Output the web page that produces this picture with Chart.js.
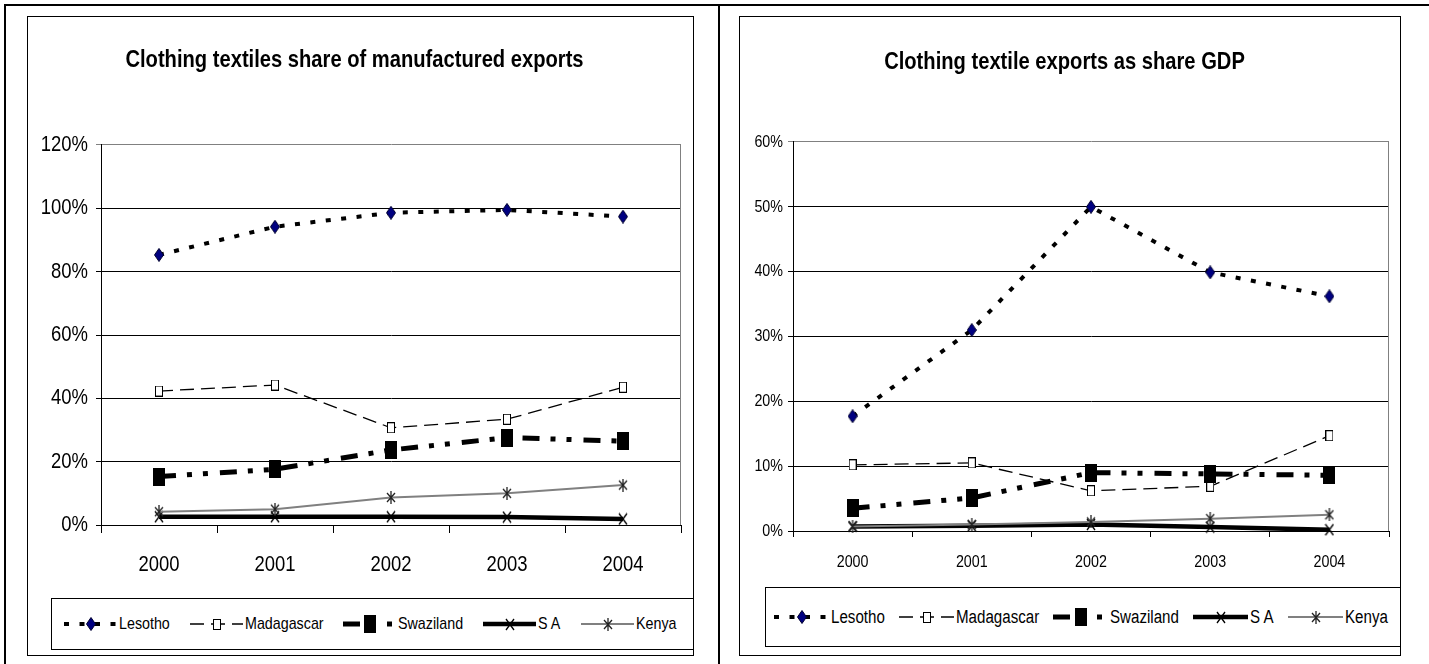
<!DOCTYPE html>
<html>
<head>
<meta charset="utf-8">
<title>Clothing textile exports</title>
<script src="https://cdn.jsdelivr.net/npm/chart.js@4.4.1/dist/chart.umd.min.js"></script>
<style>
  html, body { margin: 0; padding: 0; background: #fff; }
  body {
    width: 1429px; height: 664px; position: relative; overflow: hidden;
    font-family: 'Liberation Sans Narrow', 'Arial Narrow', 'Liberation Sans', Arial, sans-serif;
    color: #000;
  }
  .page-top { position: absolute; left: 4px; top: 4px; right: 0; border-top: 2px solid #000; }
  .page-left { position: absolute; left: 4px; top: 4px; bottom: 0; border-left: 2px solid #000; }
  .divider { position: absolute; left: 718px; top: 4px; bottom: 0; border-left: 2px solid #000; }
  .frame { position: absolute; box-sizing: border-box; border: 1px solid #000; background: #fff; }
  .frame canvas { position: absolute; left: 0; top: 0; }
  .legend {
    position: absolute; box-sizing: border-box; border: 1px solid #000; background: #fff;
    display: flex; align-items: center; white-space: nowrap; overflow: hidden;
  }
  .legend .item { display: flex; align-items: center; }
  .legend canvas { display: block; }
  .legend span { display: inline-block; margin-left: 2px; transform-origin: 0 50%; }
</style>
</head>
<body>
<div class="page-top"></div>
<div class="page-left"></div>
<div class="divider"></div>

<div class="frame" style="left:27px; top:16px; width:667px; height:640px;">
  <canvas id="mfgChart" width="665" height="638"></canvas>
</div>
<div class="legend" id="mfgLegend" style="left:51px; top:598px; width:643px; height:52px; padding-left:12px; font-size:17px;"></div>

<div class="frame" style="left:739px; top:16px; width:662px; height:640px;">
  <canvas id="gdpChart" width="660" height="638"></canvas>
</div>
<div class="legend" id="gdpLegend" style="left:765px; top:587px; width:636px; height:60px; padding-left:8px; font-size:18px;"></div>

<script>
// --- data (percent) ---
const years = ['2000', '2001', '2002', '2003', '2004'];
const seriesNames = ['Lesotho', 'Madagascar', 'Swaziland', 'S A', 'Kenya'];

// Clothing textiles share of manufactured exports
const mfgLesotho    = [85.3, 94.2, 98.6, 99.5, 97.4];
const mfgMadagascar = [42.3, 44.2, 30.7, 33.4, 43.5];
const mfgSwaziland  = [15.3, 17.6, 23.7, 27.6, 26.5];
const mfgSA         = [2.6, 2.6, 2.6, 2.5, 1.9];
const mfgKenya      = [4.2, 5.0, 8.7, 10.0, 12.6];
const mfgTicks      = [0, 20, 40, 60, 80, 100, 120];

// Clothing textile exports as share GDP
const gdpLesotho    = [17.7, 31.0, 50.0, 39.9, 36.2];
const gdpMadagascar = [10.2, 10.5, 6.2, 6.9, 14.7];
const gdpSwaziland  = [3.5, 5.1, 9.0, 8.8, 8.6];
const gdpSA         = [0.7, 0.8, 1.0, 0.6, 0.2];
const gdpKenya      = [0.7, 1.0, 1.4, 1.9, 2.5];
const gdpTicks      = [0, 10, 20, 30, 40, 50, 60];

// the original uses a narrow face; no narrow font here, so squeeze text horizontally
const TEXT_SQUEEZE = 0.84;

// --- marker images (narrow, Excel-like) ---
function markerCanvas(w, h, draw) {
    const c = document.createElement('canvas');
    c.width = w; c.height = h;
    draw(c.getContext('2d'), w, h);
    return c;
}
const diamondImg = markerCanvas(10, 14, (g, w, h) => {
    g.beginPath();
    g.moveTo(w / 2, 0.5); g.lineTo(w - 0.5, h / 2); g.lineTo(w / 2, h - 0.5); g.lineTo(0.5, h / 2);
    g.closePath();
    g.fillStyle = '#000080'; g.fill();
    g.strokeStyle = '#000030'; g.lineWidth = 1; g.stroke();
});
const squareImg = markerCanvas(8, 11, (g, w, h) => {
    g.fillStyle = '#fff'; g.fillRect(0.5, 0.5, w - 1, h - 1);
    g.strokeStyle = '#000'; g.lineWidth = 1; g.strokeRect(0.5, 0.5, w - 1, h - 1);
});
const blockImg = markerCanvas(12, 18, (g, w, h) => {
    g.fillStyle = '#000'; g.fillRect(0, 0, w, h);
});
const crossImg = markerCanvas(10, 13, (g, w, h) => {
    g.strokeStyle = '#000'; g.lineWidth = 1.3;
    g.beginPath(); g.moveTo(1, 1); g.lineTo(w - 1, h - 1); g.moveTo(w - 1, 1); g.lineTo(1, h - 1); g.stroke();
});
const starImg = markerCanvas(10, 13, (g, w, h) => {
    g.strokeStyle = '#222'; g.lineWidth = 1.3;
    g.beginPath();
    g.moveTo(1, 2); g.lineTo(w - 1, h - 2); g.moveTo(w - 1, 2); g.lineTo(1, h - 2);
    g.moveTo(w / 2, 0); g.lineTo(w / 2, h);
    g.stroke();
});

// line look per series
const lineStyles = [
    { color: '#000', width: 4, dash: [5, 10.5], marker: diamondImg },
    { color: '#000', width: 1.3, dash: [14, 7], marker: squareImg },
    { color: '#000', width: 5, dash: [17, 11, 5, 11, 5, 12], marker: blockImg },
    { color: '#000', width: 4.5, dash: [], marker: crossImg },
    { color: '#808080', width: 2, dash: [], marker: starImg }
];

// gray top/right edge of the plot area
const plotFrame = {
    id: 'plotFrame',
    beforeDatasetsDraw(chart) {
        const { ctx, chartArea: a } = chart;
        ctx.save();
        ctx.strokeStyle = '#808080';
        ctx.lineWidth = 1;
        ctx.beginPath();
        ctx.moveTo(a.right - 0.5, a.top);
        ctx.lineTo(a.right - 0.5, a.bottom);
        ctx.stroke();
        ctx.restore();
    }
};

// draw every canvas label condensed around its own anchor point
const condenseText = {
    id: 'condenseText',
    beforeInit(chart) {
        const ctx = chart.ctx;
        const fill = ctx.fillText.bind(ctx);
        ctx.fillText = function (text, x, y, maxWidth) {
            ctx.save();
            ctx.translate(x, y);
            ctx.scale(TEXT_SQUEEZE, 1);
            if (maxWidth === undefined) fill(text, 0, 0);
            else fill(text, 0, 0, maxWidth / TEXT_SQUEEZE);
            ctx.restore();
        };
    }
};

function buildDatasets(series) {
    return series.map((values, i) => {
        const st = lineStyles[i];
        return {
            label: seriesNames[i],
            data: values,
            borderColor: st.color,
            backgroundColor: st.color,
            borderWidth: st.width,
            borderDash: st.dash,
            borderCapStyle: 'butt',
            pointStyle: st.marker,
            pointRadius: 6,
            tension: 0,
            fill: false,
            clip: 12,
            order: series.length - i // later series drawn on top, like Excel
        };
    });
}

function buildLegend(el, datasets, symW, gap) {
    datasets.forEach((ds, i) => {
        const item = document.createElement('div');
        item.className = 'item';
        if (i > 0) item.style.marginLeft = gap + 'px';
        const c = document.createElement('canvas');
        c.width = symW; c.height = 24;
        const g = c.getContext('2d');
        g.strokeStyle = ds.borderColor;
        g.lineWidth = ds.borderWidth;
        g.setLineDash(ds.borderDash);
        g.beginPath(); g.moveTo(0, 12); g.lineTo(symW, 12); g.stroke();
        g.setLineDash([]);
        const img = ds.pointStyle;
        g.drawImage(img, Math.round(symW / 2 - img.width / 2), Math.round(12 - img.height / 2));
        const span = document.createElement('span');
        span.textContent = ds.label;
        item.append(c, span);
        el.appendChild(item);
        const w = span.offsetWidth;
        span.style.transform = 'scaleX(' + TEXT_SQUEEZE + ')';
        span.style.marginRight = (-w * (1 - TEXT_SQUEEZE)) + 'px';
    });
}

function makeChart(canvasId, cfg) {
    const ticks = cfg.ticks;
    const yMax = ticks[ticks.length - 1];
    return new Chart(document.getElementById(canvasId), {
        type: 'line',
        data: { labels: years, datasets: cfg.datasets },
        options: {
            responsive: false,
            animation: false,
            devicePixelRatio: 1,
            layout: { padding: { left: 0, top: 0, right: cfg.padRight, bottom: cfg.padBottom } },
            plugins: {
                legend: { display: false },
                tooltip: { enabled: false },
                title: {
                    display: true,
                    text: cfg.title,
                    color: '#000',
                    font: { size: 24, weight: 'bold' },
                    padding: { top: cfg.titleTop, bottom: cfg.titleBottom }
                }
            },
            scales: {
                x: {
                    offset: true,
                    grid: { offset: true, drawOnChartArea: false, color: '#000', tickLength: cfg.xTickLen },
                    border: { color: '#000' },
                    ticks: { color: '#000', font: { size: cfg.tickSize }, padding: cfg.xPad, maxRotation: 0 },
                    afterFit: s => { s.height = cfg.xHeight; }
                },
                y: {
                    min: ticks[0],
                    max: yMax,
                    afterBuildTicks: s => { s.ticks = ticks.map(v => ({ value: v })); },
                    grid: {
                        color: c => (c.tick && c.tick.value === yMax ? '#808080' : '#000'),
                        tickLength: 5
                    },
                    border: { color: '#000' },
                    ticks: { color: '#000', font: { size: cfg.tickSize }, padding: cfg.yPad, callback: v => v + '%' },
                    afterFit: s => { s.width = cfg.yWidth; }
                }
            }
        },
        plugins: [condenseText, plotFrame]
    });
}

Chart.defaults.font.family = "'Liberation Sans Narrow', 'Arial Narrow', 'Liberation Sans', Arial, sans-serif";
Chart.defaults.color = '#000';

const mfgDatasets = buildDatasets([mfgLesotho, mfgMadagascar, mfgSwaziland, mfgSA, mfgKenya]);
const gdpDatasets = buildDatasets([gdpLesotho, gdpMadagascar, gdpSwaziland, gdpSA, gdpKenya]);

makeChart('mfgChart', {
    title: 'Clothing textiles share of manufactured exports',
    datasets: mfgDatasets,
    ticks: mfgTicks,
    tickSize: 22,
    titleTop: 28.6, titleBottom: 70.6,
    yWidth: 73, yPad: 8,
    xHeight: 60, xTickLen: 8, xPad: 19,
    padRight: 12, padBottom: 70
});

makeChart('gdpChart', {
    title: 'Clothing textile exports as share GDP',
    datasets: gdpDatasets,
    ticks: gdpTicks,
    tickSize: 17,
    titleTop: 30.6, titleBottom: 65.6,
    yWidth: 53, yPad: 5,
    xHeight: 60, xTickLen: 6, xPad: 15,
    padRight: 11, padBottom: 64
});

buildLegend(document.getElementById('mfgLegend'), mfgDatasets, 53, 20);
buildLegend(document.getElementById('gdpLegend'), gdpDatasets, 55, 14);
</script>
</body>
</html>
